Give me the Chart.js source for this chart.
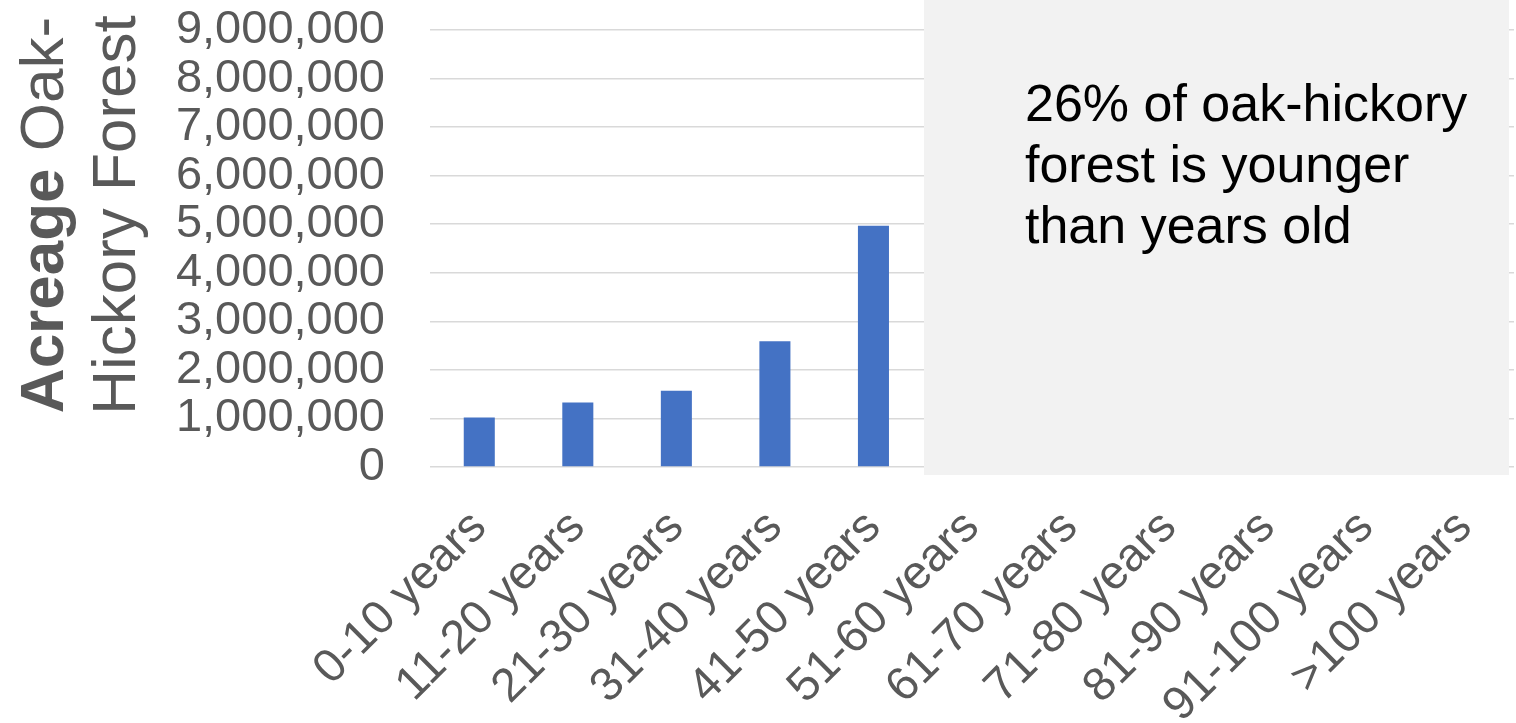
<!DOCTYPE html>
<html>
<head>
<meta charset="utf-8">
<script src="https://cdn.jsdelivr.net/npm/chart.js@4/dist/chart.umd.min.js"></script>
<style>
  html, body { margin: 0; padding: 0; background: #ffffff; }
  #wrap { width: 1516px; height: 723px; position: relative; }
</style>
</head>
<body>
<div id="wrap"><canvas id="c" width="1516" height="723"></canvas></div>
<script>
const categories = ['0-10 years','11-20 years','21-30 years','31-40 years','41-50 years','51-60 years','61-70 years','71-80 years','81-90 years','91-100 years','>100 years'];
const acreage = [1020000, 1330000, 1570000, 2590000, 4970000, null, null, null, null, null, null];
const yTitleLine1Bold = 'Acreage';
const yTitleLine1Rest = ' Oak-';
const yTitleLine2 = 'Hickory Forest';
const noteLines = ['26% of oak-hickory', 'forest is younger', 'than years old'];

const FONT = '"Liberation Sans", Arial, sans-serif';
const GREY = '#595959';

const overlayPlugin = {
  id: 'overlay',
  afterDraw(chart) {
    const ctx = chart.ctx;
    // y-axis title (two lines, rotated)
    ctx.save();
    ctx.fillStyle = GREY;
    ctx.textBaseline = 'alphabetic';
    const cy = 215;
    ctx.save();
    ctx.translate(63, cy);
    ctx.rotate(-Math.PI / 2);
    ctx.font = 'bold 62px ' + FONT;
    const w1 = ctx.measureText(yTitleLine1Bold).width;
    ctx.font = '62px ' + FONT;
    const w2 = ctx.measureText(yTitleLine1Rest).width;
    const sx = -(w1 + w2) / 2;
    ctx.textAlign = 'left';
    ctx.font = 'bold 62px ' + FONT;
    ctx.fillText(yTitleLine1Bold, sx, 0);
    ctx.font = '62px ' + FONT;
    ctx.fillText(yTitleLine1Rest, sx + w1, 0);
    ctx.restore();
    ctx.save();
    ctx.translate(135, cy);
    ctx.rotate(-Math.PI / 2);
    ctx.font = '62px ' + FONT;
    ctx.textAlign = 'center';
    ctx.fillText(yTitleLine2, 0, 0);
    ctx.restore();
    ctx.restore();

    // grey text box
    ctx.save();
    ctx.fillStyle = '#f2f2f2';
    ctx.fillRect(924, 0, 1509 - 924, 475);
    ctx.fillStyle = '#000000';
    ctx.font = '52px ' + FONT;
    ctx.textAlign = 'left';
    ctx.textBaseline = 'alphabetic';
    noteLines.forEach((t, i) => ctx.fillText(t, 1025, 121 + i * 61));
    ctx.restore();
  }
};

new Chart(document.getElementById('c'), {
  type: 'bar',
  data: {
    labels: categories,
    datasets: [{
      data: acreage,
      backgroundColor: '#4472c4',
      borderWidth: 0,
      categoryPercentage: 1,
      barPercentage: 0.315
    }]
  },
  options: {
    responsive: false,
    animation: false,
    devicePixelRatio: 1,
    layout: { padding: { top: 30, right: 2, left: 0, bottom: 0 } },
    plugins: { legend: { display: false }, tooltip: { enabled: false }, title: { display: false } },
    scales: {
      x: {
        grid: { display: false, drawTicks: false },
        border: { display: false },
        ticks: {
          color: GREY,
          font: { family: FONT, size: 47 },
          minRotation: 45,
          maxRotation: 45,
          autoSkip: false,
          padding: 33
        },
        afterFit(s) { s.height = 256; s.paddingLeft = 0; s.paddingRight = 0; }
      },
      y: {
        min: 0,
        max: 9000000,
        grid: { color: '#d9d9d9', lineWidth: 1.5, drawTicks: false },
        border: { display: false },
        ticks: {
          stepSize: 1000000,
          autoSkip: false,
          color: GREY,
          font: { family: FONT, size: 47 },
          padding: 45,
          callback: v => v.toLocaleString('en-US')
        },
        afterFit(s) { s.width = 430; s.paddingTop = 0; s.paddingBottom = 0; }
      }
    }
  },
  plugins: [overlayPlugin]
});
</script>
</body>
</html>
